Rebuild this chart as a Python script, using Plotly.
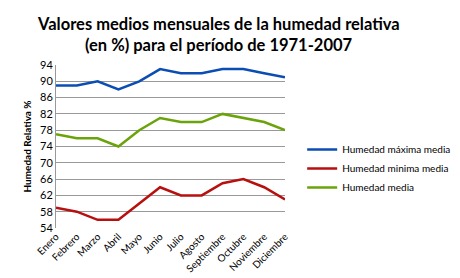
import plotly.graph_objects as go

meses = ["Enero", "Febrero", "Marzo", "Abril", "Mayo", "Junio", "Julio",
         "Agosto", "Septiembre", "Octubre", "Noviembre", "Diciembre"]
hum_max = [89, 89, 90, 88, 90, 93, 92, 92, 93, 93, 92, 91]
hum_min = [59, 58, 56, 56, 60, 64, 62, 62, 65, 66, 64, 61]
hum_media = [77, 76, 76, 74, 78, 81, 80, 80, 82, 81, 80, 78]
y_ticks = [54, 58, 62, 66, 70, 74, 78, 82, 86, 90, 94]
titulo = ["Valores medios mensuales de la humedad relativa",
          "(en %) para el período de 1971-2007"]

FONT = "Lato"
T, B = 57, 56
PH = 278 - T - B

fig = go.Figure()
fig.add_trace(go.Scatter(x=meses, y=hum_max, mode="lines", name="Humedad máxima media",
                         line=dict(color="#0B4DB3", width=2.5)))
fig.add_trace(go.Scatter(x=meses, y=hum_min, mode="lines", name="Humedad minima media",
                         line=dict(color="#B80F0F", width=2.5)))
fig.add_trace(go.Scatter(x=meses, y=hum_media, mode="lines", name="Humedad media",
                         line=dict(color="#6BA30A", width=2.5)))

for txt, py in zip(titulo, [15, 37]):
    fig.add_annotation(text="<b>" + txt + "</b>", xref="paper", yref="paper",
                       x=(229 - 48) / 255, y=(278 - B - py) / PH,
                       xanchor="center", yanchor="middle", showarrow=False,
                       font=dict(family=FONT, size=16.5, color="black"))

fig.update_layout(
    width=460, height=278,
    margin=dict(l=48, r=157, t=T, b=B),
    paper_bgcolor="white", plot_bgcolor="white",
    font=dict(family=FONT, size=11, color="black"),
    showlegend=True,
    legend=dict(x=1.075, xanchor="left", y=0.57, yanchor="top",
                font=dict(family=FONT, size=10, color="black"),
                bgcolor="rgba(0,0,0,0)", itemwidth=30, tracegroupgap=0),
)
fig.update_xaxes(type="category", tickangle=-45, showgrid=False,
                 showline=False, ticks="", tickfont=dict(family=FONT, size=10))
fig.update_yaxes(range=[54, 94], tickvals=y_ticks, showgrid=True, gridcolor="#999999",
                 gridwidth=1, showline=True, linecolor="#999999", linewidth=1,
                 ticks="", zeroline=False, tickfont=dict(family=FONT, size=11),
                 title=dict(text="<b>Humedad Relativa %</b>", font=dict(family=FONT, size=10),
                            standoff=6))

fig.write_html("out.html")
